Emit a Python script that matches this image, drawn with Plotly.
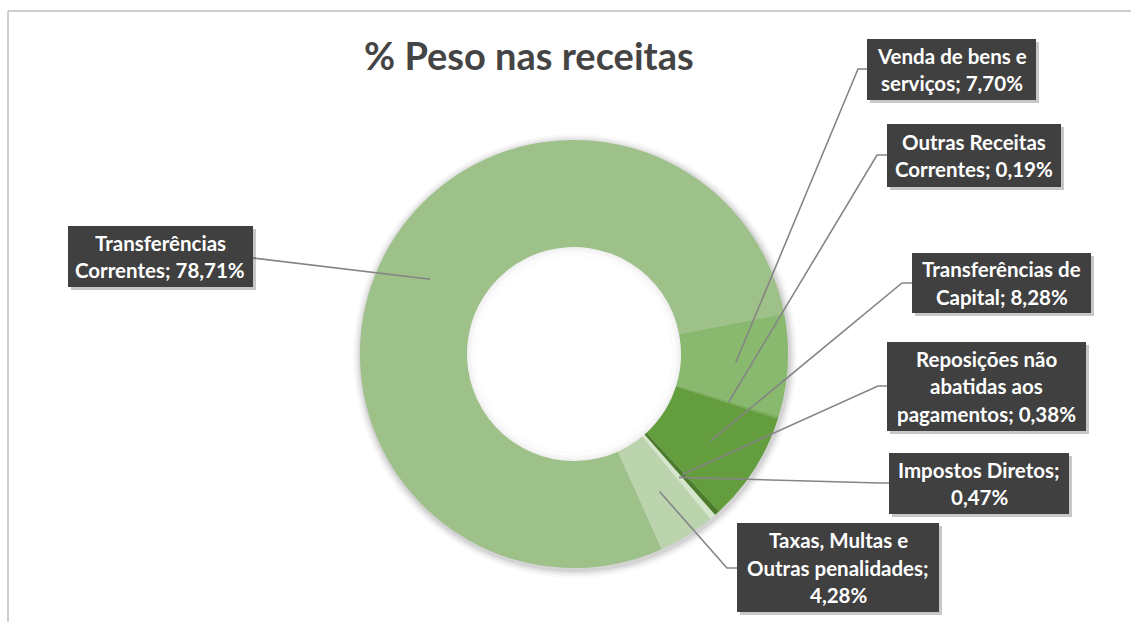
import math
import plotly.graph_objects as go

# ---------------- data ----------------
categories = [
    "Impostos Diretos",
    "Taxas, Multas e Outras penalidades",
    "Transferências Correntes",
    "Venda de bens e serviços",
    "Outras Receitas Correntes",
    "Transferências de Capital",
    "Reposições não abatidas aos pagamentos",
]
values = [0.47, 4.28, 78.71, 7.70, 0.19, 8.28, 0.38]
colors = ["#D6E6CC", "#BBD4AE", "#9DC189", "#89B96E", "#78AE58", "#639D3E", "#4A7C2C"]
words_per_line = [[2, 1], [3, 2, 1], [1, 2], [4, 2], [2, 2], [2, 2], [2, 2, 2]]

# ---------------- layout constants (pixels) ----------------
W, H = 1131, 622
CX, CY, R = 574, 354, 214
HOLE = 0.5
ROT = 138.74
# label boxes (x0, y0, x1, y1)
boxes = [
    (889, 453, 1069, 514),
    (737, 523, 939, 612),
    (68, 226, 253, 287),
    (867, 39, 1036, 100),
    (887, 124, 1061, 187),
    (912, 253, 1091, 313),
    (887, 342, 1086, 431),
]
# leader: (box point, elbow point)
leaders = [
    ((889, 483), (880, 483)),
    ((737, 568), (727, 568)),
    ((253, 258), (253, 258)),
    ((867, 69), (858, 69)),
    ((887, 155), (877, 155)),
    ((912, 283), (902, 283)),
    ((887, 386), (878, 386)),
]
LINE_SP = 27.5
FONT = "Lato, 'Open Sans', sans-serif"


def px(x):
    return x / W


def py(y):
    return 1 - y / H


fig = go.Figure()

fig.add_trace(go.Pie(
    labels=categories,
    values=values,
    hole=HOLE,
    sort=False,
    direction="clockwise",
    rotation=ROT,
    marker=dict(colors=colors, line=dict(width=0)),
    textinfo="none",
    hoverinfo="label+percent",
    showlegend=False,
    domain=dict(x=[px(CX - R), px(CX + R)], y=[py(CY + R), py(CY - R)]),
))

shapes = []
annotations = []

# soft outer shadow (behind)
for k, op in [(8, 0.025), (6, 0.035), (4, 0.05), (2, 0.07)]:
    shapes.append(dict(type="circle", xref="paper", yref="paper", layer="below",
                       x0=px(CX - R - k + 1), x1=px(CX + R + k + 1),
                       y0=py(CY + R + k + 2), y1=py(CY - R - k + 2),
                       fillcolor="rgba(0,0,0,%.3f)" % op, line=dict(width=0)))
rin = R * HOLE
# white fill of the hole so the shadow does not show through
shapes.append(dict(type="circle", xref="paper", yref="paper", layer="below",
                   x0=px(CX - rin - 1), x1=px(CX + rin + 1),
                   y0=py(CY + rin + 1), y1=py(CY - rin - 1),
                   fillcolor="white", line=dict(width=0)))
# inner hole shadow (above)
for k, op in [(1, 0.06), (3, 0.04), (5, 0.025), (8, 0.015)]:
    shapes.append(dict(type="circle", xref="paper", yref="paper", layer="above",
                       x0=px(CX - rin + k), x1=px(CX + rin - k),
                       y0=py(CY + rin - k), y1=py(CY - rin + k),
                       fillcolor="rgba(255,255,255,0)",
                       line=dict(width=2, color="rgba(0,0,0,%.3f)" % op)))

# chart border (top and left)
shapes.append(dict(type="line", xref="paper", yref="paper", x0=px(8), x1=px(1131), y0=py(11), y1=py(11),
                   line=dict(color="#BFBFBF", width=1.5)))
shapes.append(dict(type="line", xref="paper", yref="paper", x0=px(8), x1=px(8), y0=py(11), y1=py(622),
                   line=dict(color="#BFBFBF", width=1.5)))

total = sum(values)
cum = 0.0
r_anchor = R * 0.757
for i, (cat, val) in enumerate(zip(categories, values)):
    mid = ROT + (cum + val / 2) / total * 360
    cum += val
    ax = CX + r_anchor * math.sin(math.radians(mid))
    ay = CY - r_anchor * math.cos(math.radians(mid))
    (bx, by), (ex, ey) = leaders[i]
    path = "M %f %f L %f %f L %f %f" % (px(ax), py(ay), px(ex), py(ey), px(bx), py(by))
    shapes.append(dict(type="path", xref="paper", yref="paper", path=path, layer="above",
                       line=dict(color="#858585", width=1.6)))

    x0, y0, x1, y1 = boxes[i]
    # box shadow
    shapes.append(dict(type="rect", xref="paper", yref="paper", layer="above",
                       x0=px(x0 + 3), x1=px(x1 + 3), y0=py(y1 + 3), y1=py(y0 + 3),
                       fillcolor="rgba(0,0,0,0.22)", line=dict(width=0)))
    shapes.append(dict(type="rect", xref="paper", yref="paper", layer="above",
                       x0=px(x0), x1=px(x1), y0=py(y1), y1=py(y0),
                       fillcolor="#404040", line=dict(width=0)))

    label = ("%s; %.2f%%" % (cat, val)).replace(".", ",")
    words = label.split(" ")
    lines = []
    k = 0
    for n in words_per_line[i]:
        lines.append(" ".join(words[k:k + n]))
        k += n
    nl = len(lines)
    cyb = (y0 + y1) / 2
    for j, ln in enumerate(lines):
        ty = cyb + (j - (nl - 1) / 2) * LINE_SP
        annotations.append(dict(xref="paper", yref="paper", x=px((x0 + x1) / 2), y=py(ty),
                                text="<b>%s</b>" % ln, showarrow=False,
                                xanchor="center", yanchor="middle",
                                font=dict(family=FONT, size=20.5, color="white")))

annotations.append(dict(xref="paper", yref="paper", x=px(529), y=py(55),
                        text="<b>% Peso nas receitas</b>", showarrow=False,
                        xanchor="center", yanchor="middle",
                        font=dict(family=FONT, size=38, color="#444444")))

fig.update_layout(
    width=W, height=H,
    margin=dict(l=0, r=0, t=0, b=0),
    paper_bgcolor="white",
    plot_bgcolor="white",
    shapes=shapes,
    annotations=annotations,
)

fig.write_html("out.html",
               config={"displayModeBar": False},
               post_script="document.body.style.margin='0';document.body.style.overflow='hidden';")
